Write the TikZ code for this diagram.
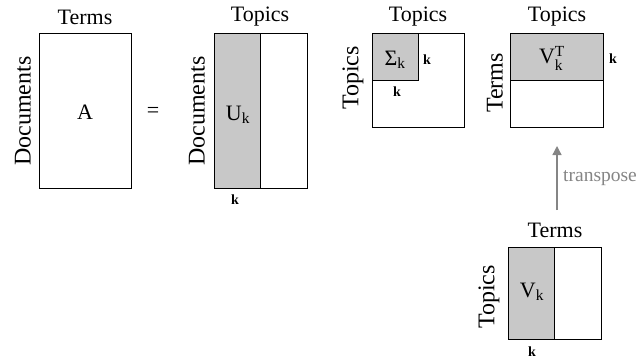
\documentclass[tikz,border=0pt]{standalone}
\usepackage{fontspec}
\usepackage{amsmath}
\setmainfont{Liberation Serif}
\usetikzlibrary{arrows.meta}
\definecolor{shade}{HTML}{C8C8C8}
\definecolor{arrowgray}{HTML}{858585}
\tikzset{
  mat/.style={draw=black, line width=1.3pt, fill=white, inner sep=0pt, anchor=north west},
  part/.style={draw=black, line width=1.3pt, fill=shade, inner sep=0pt, anchor=north west},
  head/.style={font=\fontsize{22}{22}\selectfont, inner sep=0pt},
  side/.style={font=\fontsize{24}{24}\selectfont, inner sep=0pt, rotate=90},
  lab/.style={font=\fontsize{22}{22}\selectfont, inner sep=0pt},
  kk/.style={font=\fontsize{14}{14}\selectfont\bfseries, inner sep=0pt},
  tarrow/.style={draw=arrowgray, line width=1.3pt, -{Triangle[length=9pt,width=9pt]}}
}
\begin{document}
\begin{tikzpicture}[x=1pt,y=-1pt]
\useasboundingbox (0,0) rectangle (640,362);
% A
\node[mat, minimum width=92pt, minimum height=155pt] (A) at (39,33) {};
\node[lab] (Alab) at (85,112) {A};
\node[head] (Aterms) at (85,17) {Terms};
\node[side] (Adocs) at (23,111) {Documents};
\node[font=\fontsize{22}{22}\selectfont, inner sep=0pt] (eq) at (153,112) {=};
% U
\node[mat, minimum width=93pt, minimum height=155pt] (U) at (214,33) {};
\node[part, minimum width=46pt, minimum height=155pt] (Uk) at (214,33) {};
\node[lab] (Ulab) at (238,115) {U\textsubscript{k}};
\node[head] (Utop) at (260,17) {Topics};
\node[side] (Udocs) at (197,111) {Documents};
\node[kk] (Uk1) at (235,200) {k};
% Sigma
\node[mat, minimum width=92pt, minimum height=94pt] (S) at (372,33) {};
\node[part, minimum width=46pt, minimum height=47pt] (Sk) at (372,33) {};
\node[lab] (Slab) at (395,60) {Σ\textsubscript{k}};
\node[kk] (Sk1) at (427,60) {k};
\node[kk] (Sk2) at (397,92) {k};
\node[head] (Stop) at (418,17) {Topics};
\node[side] (Sside) at (353,78) {Topics};
% V^T
\node[mat, minimum width=93pt, minimum height=94pt] (VT) at (510,33) {};
\node[part, minimum width=93pt, minimum height=47pt] (VTk) at (510,33) {};
\node[lab] (VTlab) at (552,58) {V$^{\text{T}}_{\text{k}}$};
\node[kk] (VTk1) at (613,59) {k};
\node[head] (VTtop) at (557,17) {Topics};
\node[side] (VTside) at (495,83) {Terms};
% arrow
\coordinate (arrS) at (557,210);
\coordinate (arrE) at (557,146);
\draw[tarrow] (arrS) -- (arrE);
\node[font=\fontsize{19.5}{19.5}\selectfont, text=arrowgray, inner sep=0pt, anchor=west] (tr) at (563,178) {transpose};
% V
\node[mat, minimum width=93pt, minimum height=92pt] (V) at (508,247) {};
\node[part, minimum width=46pt, minimum height=92pt] (Vk) at (508,247) {};
\node[lab] (Vlab) at (532,292) {V\textsubscript{k}};
\node[kk] (Vk1) at (532,352) {k};
\node[head] (Vtop) at (555,230) {Terms};
\node[side] (Vside) at (489,297) {Topics};
\end{tikzpicture}
\end{document}
